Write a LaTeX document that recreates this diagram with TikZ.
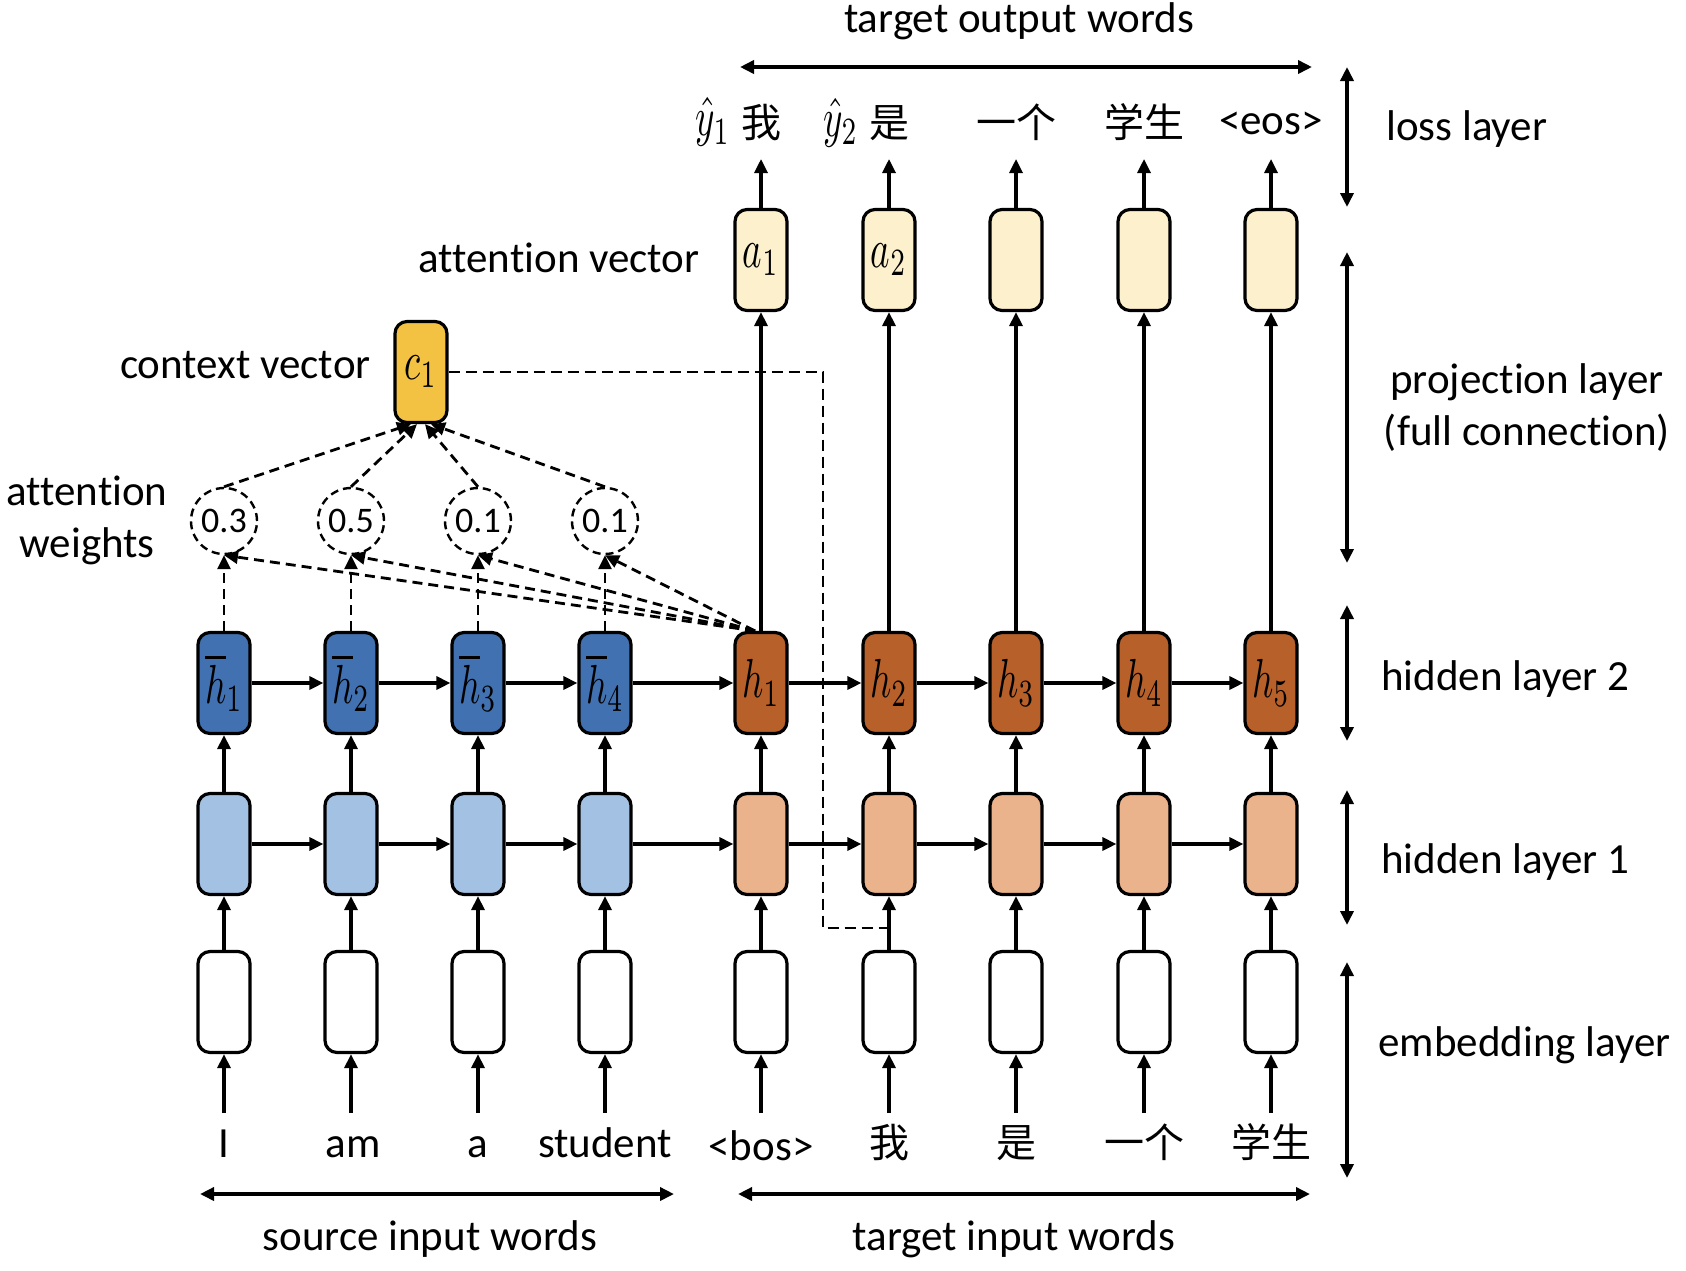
\documentclass[tikz,border=0pt]{standalone}
\usepackage{fontspec}
\usepackage{graphicx}
\setmainfont{Carlito}[Ligatures={NoCommon}]
\newfontfamily\cjk{Noto Sans CJK SC}
\usetikzlibrary{arrows.meta}
\definecolor{srcA}{RGB}{163,194,227}
\definecolor{srcB}{RGB}{65,113,176}
\definecolor{tgtA}{RGB}{235,179,139}
\definecolor{tgtB}{RGB}{183,96,42}
\definecolor{attv}{RGB}{252,240,205}
\definecolor{ctxv}{RGB}{244,194,66}
\newcommand{\mlab}[1]{\scalebox{1.85}[2.75]{$#1$}}
\begin{document}
\begin{tikzpicture}[x=0.5pt,y=-0.5pt,
  cell/.style={draw=black,line width=1.6pt,rounded corners=6pt,minimum width=26pt,minimum height=50.5pt,inner sep=0pt},
  tip/.style={},
  arr/.style={line width=1.6pt,-{Triangle[length=7pt,width=6.5pt]}},
  dasharr/.style={line width=1.4pt,dash pattern=on 5pt off 3pt,-{Triangle[length=7pt,width=6.5pt]}},
  dline/.style={line width=1.4pt,dash pattern=on 5.5pt off 3pt},
  dbl/.style={line width=1.8pt,{Triangle[length=7pt,width=6.5pt]}-{Triangle[length=7pt,width=6.5pt]}},
  wgt/.style={circle,draw,line width=1.2pt,dash pattern=on 4pt off 2.5pt,minimum size=33pt,inner sep=0pt,font=\fontsize{18}{18}\selectfont},
  lbl/.style={font=\fontsize{21.5}{26}\selectfont,inner sep=0pt},
  zh/.style={font=\fontsize{20}{24}\selectfont\cjk,inner sep=0pt}]
\useasboundingbox (0,0) rectangle (1686,1270);

% source columns
\foreach \x/\w [count=\i] in {224/0.3,351/0.5,478/0.1,605/0.1} {
  \node[cell,fill=white] (se\i) at (\x,1002) {};
  \node[cell,fill=srcA] (sa\i) at (\x,844) {};
  \node[cell,fill=srcB] (sb\i) at (\x,683) {\mlab{\overline{h}_{\i}}};
  \node[wgt] (w\i) at (\x,521) {\w};
  \coordinate (sin\i) at (\x,1113);
}
% target columns
\foreach \x [count=\i] in {761,889,1016,1144,1271} {
  \node[cell,fill=white] (te\i) at (\x,1002) {};
  \node[cell,fill=tgtA] (ta\i) at (\x,844) {};
  \node[cell,fill=tgtB] (tb\i) at (\x,683) {\mlab{h_{\i}}};
  \coordinate (tin\i) at (\x,1113);
  \coordinate (tout\i) at (\x,159);
}
\node[cell,fill=attv] (tv1) at (761,260) {\mlab{a_1}};
\node[cell,fill=attv] (tv2) at (889,260) {\mlab{a_2}};
\node[cell,fill=attv] (tv3) at (1016,260) {};
\node[cell,fill=attv] (tv4) at (1144,260) {};
\node[cell,fill=attv] (tv5) at (1271,260) {};
\node[cell,fill=ctxv] (c1) at (421,372) {\mlab{c_1}};

% input words
\node[lbl,anchor=base] (iw1) at (224,1157) {I};
\node[lbl,anchor=base] (iw2) at (353,1157) {am};
\node[lbl,anchor=base] (iw3) at (478,1157) {a};
\node[lbl,anchor=base] (iw4) at (605,1157) {student};
\node[lbl,anchor=base] (iw5) at (761,1160) {<bos>};
\node[zh,anchor=base] (iw6) at (889,1157) {我};
\node[zh,anchor=base] (iw7) at (1016,1157) {是};
\node[zh,anchor=base] (iw8) at (1144,1157) {一个};
\node[zh,anchor=base] (iw9) at (1271,1157) {学生};

% output words
\node[zh,anchor=base] (ow1) at (761,137) {我};
\node[anchor=east,inner sep=0pt] (oy1) at ([xshift=-5pt]ow1.west) {\mlab{\hat{y}_1}};
\node[zh,anchor=base] (ow2) at (889,137) {是};
\node[anchor=east,inner sep=0pt] (oy2) at ([xshift=-5pt]ow2.west) {\mlab{\hat{y}_2}};
\node[zh,anchor=base] (ow3) at (1016,137) {一个};
\node[zh,anchor=base] (ow4) at (1144,137) {学生};
\node[lbl,anchor=base] (ow5) at (1271,134) {<eos>};

% vertical arrows
\foreach \i in {1,...,4} {
  \draw[arr] (sin\i) -- (se\i.south);
  \draw[arr] (se\i.north) -- (sa\i.south);
  \draw[arr] (sa\i.north) -- (sb\i.south);
}
\foreach \i in {1,...,5} {
  \draw[arr] (tin\i) -- (te\i.south);
  \draw[arr] (te\i.north) -- (ta\i.south);
  \draw[arr] (ta\i.north) -- (tb\i.south);
  \draw[arr] (tb\i.north) -- (tv\i.south);
  \draw[arr] (tv\i.north) -- (tout\i);
}
% horizontal arrows
\foreach \i/\j in {1/2,2/3,3/4} {
  \draw[arr] (sa\i.east) -- (sa\j.west);
  \draw[arr] (sb\i.east) -- (sb\j.west);
}
\draw[arr] (sa4.east) -- (ta1.west);
\draw[arr] (sb4.east) -- (tb1.west);
\foreach \i/\j in {1/2,2/3,3/4,4/5} {
  \draw[arr] (ta\i.east) -- (ta\j.west);
  \draw[arr] (tb\i.east) -- (tb\j.west);
}

% attention
\foreach \i in {1,...,4} {
  \draw[dasharr] (sb\i.north) -- (w\i.south);
  \draw[dasharr] ([xshift=-3pt]tb1.north) -- (w\i.south);
}
\draw[dasharr] (w1.north) -- ([xshift=-5pt]c1.south);
\draw[dasharr] (w2.north) -- ([xshift=-2pt]c1.south);
\draw[dasharr] (w3.north) -- ([xshift=2pt]c1.south);
\draw[dasharr] (w4.north) -- ([xshift=5pt]c1.south);
\coordinate (cturn) at (823,928);
\coordinate (cjoin) at (889,928);
\draw[dline] (c1.east) -| (cturn) -- (cjoin);

% left labels
\node[lbl,anchor=base east] (lav) at (700,272) {attention vector};
\node[lbl,anchor=base east] (lcv) at (371,378) {context vector};
\node[lbl,align=center] (law) at (87,520) {attention\\weights};

% right labels and scale arrows
\node[lbl,anchor=base west] (rl1) at (1386,140) {loss layer};
\node[lbl,align=center,anchor=center] (rl2) at (1527,408) {projection layer\\(full connection)};
\node[lbl,anchor=base west] (rl3) at (1381,690) {hidden layer 2};
\node[lbl,anchor=base west] (rl4) at (1381,873) {hidden layer 1};
\node[lbl,anchor=base west] (rl5) at (1378,1056) {embedding layer};
\coordinate (r1a) at (1347,67);   \coordinate (r1b) at (1347,207);
\coordinate (r2a) at (1347,252);  \coordinate (r2b) at (1347,563);
\coordinate (r3a) at (1347,605);  \coordinate (r3b) at (1347,741);
\coordinate (r4a) at (1347,790);  \coordinate (r4b) at (1347,925);
\coordinate (r5a) at (1347,962);  \coordinate (r5b) at (1347,1178);
\foreach \k in {1,...,5} { \draw[dbl] (r\k a) -- (r\k b); }

% top and bottom
\node[lbl,anchor=base] (tow) at (1019,32) {target output words};
\coordinate (ta) at (740,67); \coordinate (tbb) at (1312,67);
\draw[dbl] (ta) -- (tbb);
\coordinate (sa) at (200,1194); \coordinate (sb) at (674,1194);
\draw[dbl] (sa) -- (sb);
\coordinate (ga) at (738,1194); \coordinate (gb) at (1310,1194);
\draw[dbl] (ga) -- (gb);
\node[lbl,anchor=base] (siw) at (430,1250) {source input words};
\node[lbl,anchor=base] (tiw) at (1014,1250) {target input words};
\end{tikzpicture}
\end{document}
